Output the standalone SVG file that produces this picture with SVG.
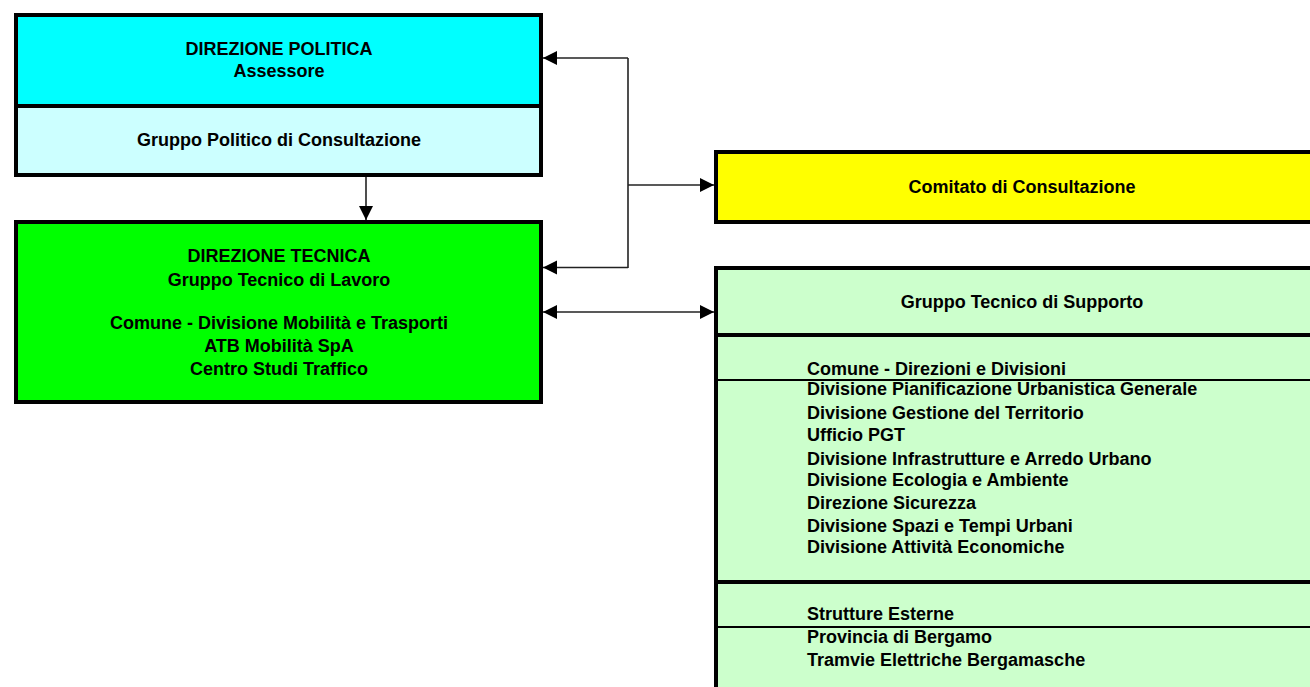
<svg xmlns="http://www.w3.org/2000/svg" width="1310" height="687" viewBox="0 0 1310 687">
<style>
.box{stroke:#000;stroke-width:4}
.div{stroke:#000;stroke-width:4}
.thin{stroke:#000;stroke-width:2}
text{font-family:"Liberation Sans",Arial,sans-serif;font-weight:bold;font-size:18px;fill:#000}
.c{text-anchor:middle}
.conn{stroke:#222;stroke-width:1.6;fill:none}
</style>
<defs>
<marker id="ah" markerUnits="userSpaceOnUse" markerWidth="16" markerHeight="16" viewBox="0 0 16 16" refX="14" refY="8" orient="auto-start-reverse">
<path d="M0,1 L14,8 L0,15 Z" fill="#000"/>
</marker>
</defs>
<rect width="1310" height="687" fill="#fff"/>
<g id="direzione-politica">
<rect class="box" x="16" y="15" width="525" height="160" fill="#ccffff"/>
<rect x="18" y="17" width="521" height="89" fill="#00ffff"/>
<line class="div" x1="16" y1="106" x2="541" y2="106"/>
<text class="c" x="279" y="55">DIREZIONE POLITICA</text>
<text class="c" x="279" y="77">Assessore</text>
<text class="c" x="279" y="146">Gruppo Politico di Consultazione</text>
</g>
<g id="direzione-tecnica">
<rect class="box" x="16" y="222" width="525" height="180" fill="#00ff00"/>
<text class="c" x="279" y="262">DIREZIONE TECNICA</text>
<text class="c" x="279" y="286">Gruppo Tecnico di Lavoro</text>
<text class="c" x="279" y="329">Comune - Divisione Mobilità e Trasporti</text>
<text class="c" x="279" y="352">ATB Mobilità SpA</text>
<text class="c" x="279" y="375">Centro Studi Traffico</text>
</g>
<g id="comitato">
<rect class="box" x="716" y="152" width="612" height="70" fill="#ffff00"/>
<text class="c" x="1022" y="193">Comitato di Consultazione</text>
</g>
<g id="gruppo-supporto">
<rect class="box" x="716" y="268" width="612" height="440" fill="#ccffcc"/>
<line class="div" x1="716" y1="335" x2="1328" y2="335"/>
<line class="div" x1="716" y1="582" x2="1328" y2="582"/>
<line class="thin" x1="716" y1="380" x2="1328" y2="380"/>
<line class="thin" x1="716" y1="627" x2="1328" y2="627"/>
<text class="c" x="1022" y="308">Gruppo Tecnico di Supporto</text>
<text x="807" y="375">Comune - Direzioni e Divisioni</text>
<text x="807" y="395">Divisione Pianificazione Urbanistica Generale</text>
<text x="807" y="419">Divisione Gestione del Territorio</text>
<text x="807" y="441">Ufficio PGT</text>
<text x="807" y="465">Divisione Infrastrutture e Arredo Urbano</text>
<text x="807" y="486">Divisione Ecologia e Ambiente</text>
<text x="807" y="509">Direzione Sicurezza</text>
<text x="807" y="532">Divisione Spazi e Tempi Urbani</text>
<text x="807" y="553">Divisione Attività Economiche</text>
<text x="807" y="620">Strutture Esterne</text>
<text x="807" y="643">Provincia di Bergamo</text>
<text x="807" y="666">Tramvie Elettriche Bergamasche</text>
</g>
<g id="connectors">
<line class="conn" x1="366" y1="177" x2="366" y2="220" marker-end="url(#ah)"/>
<line class="conn" x1="628" y1="58" x2="628" y2="268"/>
<line class="conn" x1="628" y1="58" x2="543" y2="58" marker-end="url(#ah)"/>
<line class="conn" x1="628" y1="267.5" x2="543" y2="267.5" marker-end="url(#ah)"/>
<line class="conn" x1="628" y1="185" x2="714" y2="185" marker-end="url(#ah)"/>
<line class="conn" x1="543" y1="312" x2="714" y2="312" marker-start="url(#ah)" marker-end="url(#ah)"/>
</g>
</svg>
